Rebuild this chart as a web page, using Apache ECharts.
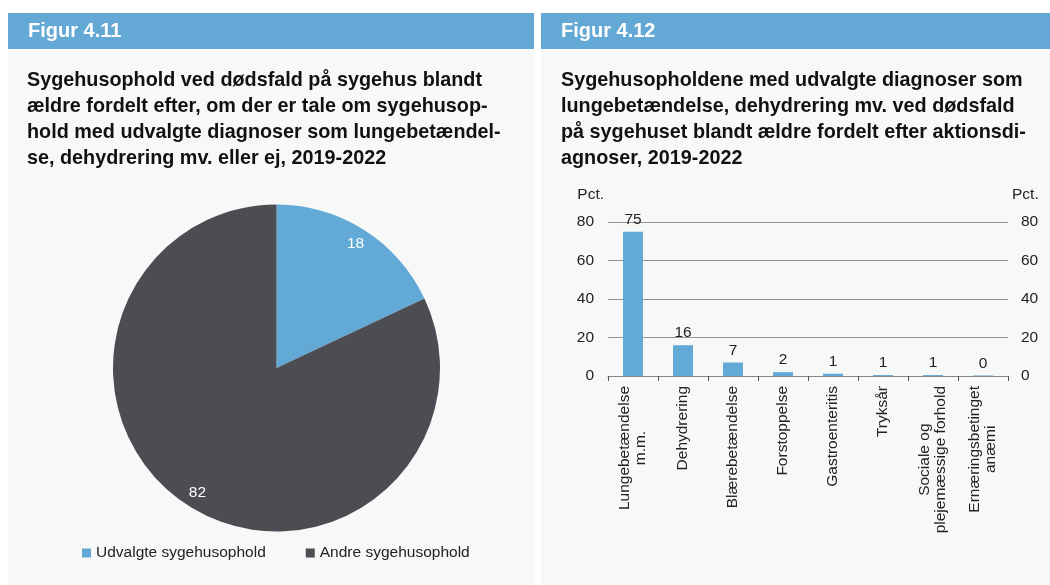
<!DOCTYPE html>
<html>
<head>
<meta charset="utf-8">
<script src="https://cdn.jsdelivr.net/npm/echarts@6/dist/echarts.min.js"></script>
<style>
  html, body { margin: 0; padding: 0; background: #ffffff; }
  #main { width: 1050px; height: 585px; }
</style>
</head>
<body>
<div id="main"></div>
<script>
// Figur 4.11 - fordeling af sygehusophold (pct.)
var pieNames = ['Udvalgte sygehusophold', 'Andre sygehusophold'];
var pieValues = [18, 82];

// Figur 4.12 - aktionsdiagnoser (pct.)
var diagnoser = ['Lungebetændelse\nm.m.', 'Dehydrering', 'Blærebetændelse', 'Forstoppelse',
  'Gastroenteritis', 'Tryksår', 'Sociale og\nplejemæssige forhold', 'Ernæringsbetinget\nanæmi'];
var andele = [75, 16, 7, 2, 1.2, 0.5, 0.5, 0.3];
var yTicks = [0, 20, 40, 60, 80];

var blue = '#63a9d6';
var dark = '#4c4d53';
var panel = '#f7f8f8';
var font = '"Liberation Sans", Arial, sans-serif';
var fs = 15.5;

var chart = echarts.init(document.getElementById('main'));

var pieData = pieNames.map(function (n, i) { return { name: n, value: pieValues[i] }; });

var option = {
  backgroundColor: '#ffffff',
  textStyle: { fontFamily: font },
  graphic: [
    { type: 'rect', z: -10, shape: { x: 8, y: 49, width: 526, height: 540 }, style: { fill: panel } },
    { type: 'rect', z: -10, shape: { x: 8, y: 13, width: 526, height: 36 }, style: { fill: '#64a9d5' } },
    { type: 'rect', z: -10, shape: { x: 541, y: 49, width: 515, height: 540 }, style: { fill: panel } },
    { type: 'rect', z: -10, shape: { x: 541, y: 13, width: 515, height: 36 }, style: { fill: '#64a9d5' } }
  ],
  title: [
    { text: 'Figur 4.11', left: 28, top: 21, padding: 0,
      textStyle: { color: '#ffffff', fontSize: 20, fontWeight: 'bold', lineHeight: 20, fontFamily: font } },
    { text: 'Figur 4.12', left: 561, top: 21, padding: 0,
      textStyle: { color: '#ffffff', fontSize: 20, fontWeight: 'bold', lineHeight: 20, fontFamily: font } },
    { text: 'Sygehusophold ved dødsfald på sygehus blandt\nældre fordelt efter, om der er tale om sygehusop-\nhold med udvalgte diagnoser som lungebetændel-\nse, dehydrering mv. eller ej, 2019-2022',
      left: 27, top: 68, padding: 0,
      textStyle: { color: '#111111', fontSize: 19.8, fontWeight: 'bold', lineHeight: 26, fontFamily: font } },
    { text: 'Sygehusopholdene med udvalgte diagnoser som\nlungebetændelse, dehydrering mv. ved dødsfald\npå sygehuset blandt ældre fordelt efter aktionsdi-\nagnoser, 2019-2022',
      left: 561, top: 68, padding: 0,
      textStyle: { color: '#111111', fontSize: 19.8, fontWeight: 'bold', lineHeight: 26, fontFamily: font } }
  ],
  legend: {
    data: pieNames,
    left: 82, top: 545,
    icon: 'rect', itemWidth: 9, itemHeight: 9, itemGap: 40,
    padding: 0,
    textStyle: { color: '#222222', fontSize: fs, fontFamily: font }
  },
  grid: { left: 608, right: 42, top: 222, bottom: 209 },
  xAxis: {
    type: 'category',
    data: diagnoser,
    axisLine: { lineStyle: { color: '#888888', width: 1 } },
    axisTick: { show: true, length: 5, lineStyle: { color: '#555555' } },
    axisLabel: {
      rotate: 90, margin: 10, color: '#222222', fontSize: fs, fontFamily: font,
      formatter: function (v) {
        return v.split('\n').map(function (s) { return '{c|' + s + '}'; }).join('\n');
      },
      rich: { c: { align: 'center', fontSize: fs, color: '#222222', fontFamily: font } }
    }
  },
  yAxis: [
    { type: 'value', min: 0, max: 80, interval: 20, position: 'left',
      name: 'Pct.', nameLocation: 'end', nameGap: 19,
      nameTextStyle: { align: 'right', color: '#222222', fontSize: fs, padding: [0, 4, 0, 0] },
      axisLabel: { margin: 14, color: '#222222', fontSize: fs,
        formatter: function (v) { return yTicks.indexOf(v) >= 0 ? String(v) : ''; } },
      splitLine: { lineStyle: { color: '#959595', width: 1 } },
      axisLine: { show: false }, axisTick: { show: false } },
    { type: 'value', min: 0, max: 80, interval: 20, position: 'right',
      name: 'Pct.', nameLocation: 'end', nameGap: 19,
      nameTextStyle: { align: 'left', color: '#222222', fontSize: fs, padding: [0, 0, 0, 4] },
      axisLabel: { margin: 13, color: '#222222', fontSize: fs,
        formatter: function (v) { return yTicks.indexOf(v) >= 0 ? String(v) : ''; } },
      splitLine: { show: false },
      axisLine: { show: false }, axisTick: { show: false } }
  ],
  series: [
    {
      type: 'pie',
      center: [276.5, 368],
      radius: [0, 163.5],
      startAngle: 90,
      clockwise: true,
      color: [blue, dark],
      data: pieData,
      label: { show: false },
      labelLine: { show: false },
      itemStyle: { borderWidth: 0 },
      emphasis: { disabled: true }
    },
    {
      // kun til placering af værdietiketter tæt på kanten
      type: 'pie',
      center: [276.5, 368],
      radius: [125.5, 163.5],
      startAngle: 90,
      clockwise: true,
      silent: true,
      data: pieData,
      itemStyle: { color: 'rgba(0,0,0,0)', borderWidth: 0 },
      label: { show: true, position: 'inside', color: '#ffffff', fontSize: fs, fontFamily: font,
        formatter: function (p) { return String(p.value); } },
      labelLine: { show: false },
      emphasis: { disabled: true }
    },
    {
      type: 'bar',
      xAxisIndex: 0, yAxisIndex: 0,
      data: andele,
      barWidth: 20,
      itemStyle: { color: blue },
      label: { show: true, position: 'top', distance: 4, color: '#222222', fontSize: fs, fontFamily: font,
        formatter: function (p) { return String(Math.round(p.value)); } },
      emphasis: { disabled: true }
    }
  ]
};

chart.setOption(option);
</script>
</body>
</html>
